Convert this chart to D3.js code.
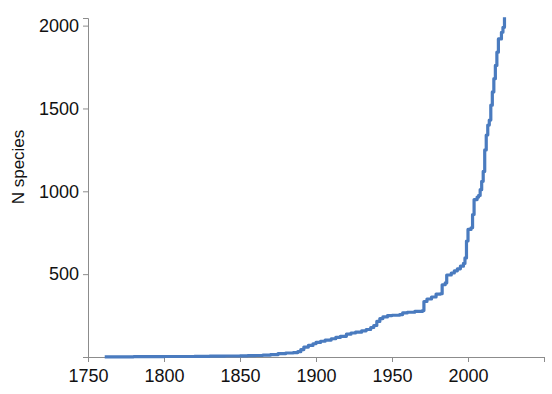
<!DOCTYPE html>
<html>
<head>
<meta charset="utf-8">
<script src="https://cdn.jsdelivr.net/npm/d3@7"></script>
<style>
  html, body { margin: 0; padding: 0; background: #fff; }
  svg { display: block; }
</style>
</head>
<body>
<svg id="chart" width="552" height="394"></svg>
<script>
// Cumulative number of described species by year
const years = [1761,1770,1780,1790,1800,1810,1820,1830,1840,1850,1855,1860,1865,1870,1875,1880,1885,1888,1890,1892,1895,1898,1900,1903,1906,1910,1913,1916,1920,1923,1926,1930,1933,1936,1938,1940,1942,1944,1947,1950,1955,1957,1960,1965,1970,1971,1973,1976,1979,1982,1983,1985,1986,1989,1991,1993,1995,1997,1998,1999,2000,2002,2003,2004,2006,2007,2008,2009,2010,2011,2012,2013,2014,2015,2016,2017,2018,2019,2020,2022,2023,2024];
const nSpecies = [1,1,2,2,3,3,4,5,6,7,8,9,11,14,20,24,27,32,45,60,70,80,88,95,102,110,118,125,138,145,150,158,166,178,190,215,232,242,250,252,256,266,270,275,280,335,350,362,380,382,436,447,495,507,520,532,548,565,598,700,770,780,860,950,965,975,1010,1060,1120,1250,1340,1400,1430,1520,1600,1680,1760,1840,1920,1960,1990,2050];
const xTicks = [1750,1800,1850,1900,1950,2000,2050];
const yTicks = [0,500,1000,1500,2000];
const yLabel = "N species";

const svg = d3.select("#chart");
const margin = {left: 88, right: 8, top: 18, bottom: 37};
const W = 552, H = 394;
const x = d3.scaleLinear().domain([1750, 2050]).range([margin.left, W - margin.right]);
const y = d3.scaleLinear().domain([0, 2046]).range([H - margin.bottom, margin.top]);

const axisColor = "#8c8c8c";
const font = "'Liberation Sans', Arial, sans-serif";

const xAxis = svg.append("g")
  .attr("transform", `translate(0,${H - margin.bottom})`)
  .call(d3.axisBottom(x).tickValues(xTicks).tickSize(5).tickPadding(7)
    .tickFormat(d => d === 2050 ? "" : d3.format("d")(d)));
const yAxis = svg.append("g")
  .attr("transform", `translate(${margin.left},0)`)
  .call(d3.axisLeft(y).tickValues(yTicks).tickSize(5).tickPadding(4)
    .tickFormat(d => d === 0 ? "" : d3.format("d")(d)));

[xAxis, yAxis].forEach(g => {
  g.select(".domain").attr("stroke", axisColor).attr("stroke-width", 1);
  g.selectAll(".tick line").attr("stroke", axisColor);
  g.selectAll(".tick text").attr("fill", "#111").style("font-family", font).style("font-size", "18px");
});

svg.append("text")
  .attr("transform", `translate(24,${167}) rotate(-90)`)
  .attr("text-anchor", "middle")
  .style("font-family", font)
  .style("font-size", "17px")
  .attr("fill", "#111")
  .text(yLabel);

const data = years.map((yr, i) => ({yr, n: nSpecies[i]}));
const line = d3.line()
  .x(d => x(d.yr))
  .y(d => y(d.n))
  .curve(d3.curveStepAfter);

svg.append("path")
  .datum(data)
  .attr("fill", "none")
  .attr("stroke", "#4a7bbf")
  .attr("stroke-width", 3.2)
  .attr("stroke-linejoin", "round")
  .attr("d", line);
</script>
</body>
</html>
